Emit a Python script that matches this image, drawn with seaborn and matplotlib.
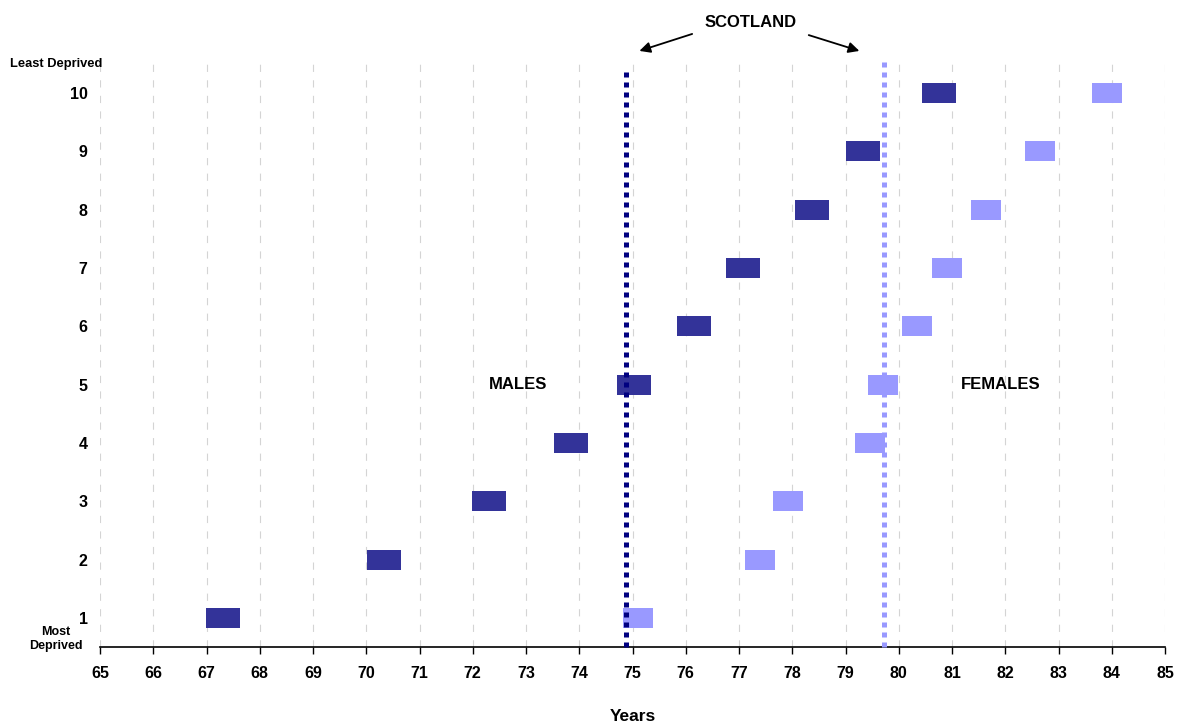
import matplotlib
matplotlib.use("Agg")
import matplotlib.pyplot as plt
import pandas as pd
import seaborn as sns

# life expectancy by deprivation decile
deciles = [1, 2, 3, 4, 5, 6, 7, 8, 9, 10]
males = [67.31, 70.33, 72.30, 73.85, 75.02, 76.15, 77.07, 78.38, 79.32, 80.75]
females = [75.10, 77.39, 77.92, 79.46, 79.71, 80.35, 80.90, 81.63, 82.66, 83.92]
scotland_male = 74.88
scotland_female = 79.72
year_ticks = list(range(65, 86))

df = pd.DataFrame({"decile": deciles, "male": males, "female": females})

sns.set_theme(style="white")
plt.rcParams["font.family"] = ["Liberation Sans", "DejaVu Sans"]
plt.rcParams["font.weight"] = "bold"
plt.rcParams["text.color"] = "black"
plt.rcParams["axes.labelcolor"] = "black"
plt.rcParams["xtick.color"] = "black"
plt.rcParams["ytick.color"] = "black"

fig = plt.figure(figsize=(11.81, 7.24), dpi=100)
ax = fig.add_axes([100 / 1181, 77 / 724, 1065 / 1181, 583 / 724])

# rectangular markers
male_box = [(-1, -0.59), (1, -0.59), (1, 0.59), (-1, 0.59), (-1, -0.59)]
female_box = [(-1, -0.67), (1, -0.67), (1, 0.67), (-1, 0.67), (-1, -0.67)]

# scotland reference lines
ax.plot([scotland_male, scotland_male], [0.5, 10.38], color="#000080", lw=3.6,
        ls=(0, (1, 1)), dash_capstyle="butt", clip_on=False, zorder=3)
ax.plot([scotland_female, scotland_female], [0.5, 10.62], color="#9999FF", lw=3.6,
        ls=(0, (1, 1)), dash_capstyle="butt", clip_on=False, zorder=3)

sns.scatterplot(data=df, x="male", y="decile", marker=male_box, s=600,
                color="#333399", linewidth=0, ax=ax, zorder=2, clip_on=False)
sns.scatterplot(data=df, x="female", y="decile", marker=female_box, s=467,
                color="#9999FF", linewidth=0, ax=ax, zorder=2, clip_on=False)

ax.set_xlim(65, 85)
ax.set_ylim(0.5, 10.5)
ax.set_xticks(year_ticks)
ax.set_xticklabels([str(t) for t in year_ticks], fontsize=11.5, fontweight="bold")
ax.set_yticks(deciles)
ax.set_yticklabels([str(d) for d in deciles], fontsize=11.5, fontweight="bold")
ax.tick_params(axis="x", direction="out", length=5, width=1, color="black", pad=9, bottom=True)
ax.tick_params(axis="y", length=0, pad=9)

ax.xaxis.grid(True, color="#d4d4d4", lw=0.8, ls=(0, (6.5, 7.5)))
ax.set_axisbelow(True)
for side in ["left", "top", "right"]:
    ax.spines[side].set_visible(False)
ax.spines["bottom"].set_color("black")
ax.spines["bottom"].set_linewidth(1.2)

ax.set_xlabel("Years", fontsize=12.5, fontweight="bold", labelpad=20)
ax.set_ylabel("")

# labels
ax.text(72.85, 5, "MALES", ha="center", va="center", fontsize=12, fontweight="bold")
ax.text(81.92, 5, "FEMALES", ha="center", va="center", fontsize=12, fontweight="bold")
ax.text(77.21, 11.22, "SCOTLAND", ha="center", va="center", fontsize=12, fontweight="bold")
ax.annotate("", xy=(75.08, 10.71), xytext=(76.17, 11.03), annotation_clip=False,
            arrowprops=dict(arrowstyle="-|>", color="black", lw=1.3, mutation_scale=16))
ax.annotate("", xy=(79.31, 10.71), xytext=(78.26, 11.01), annotation_clip=False,
            arrowprops=dict(arrowstyle="-|>", color="black", lw=1.3, mutation_scale=16))

fig.text(10 / 1181, 1 - 64 / 724, "Least Deprived", ha="left", va="center",
         fontsize=9.3, fontweight="bold")
fig.text(56 / 1181, 1 - 639 / 724, "Most\nDeprived", ha="center", va="center",
         fontsize=9, fontweight="bold", linespacing=1.25)

fig.savefig("out.png", dpi=100)
